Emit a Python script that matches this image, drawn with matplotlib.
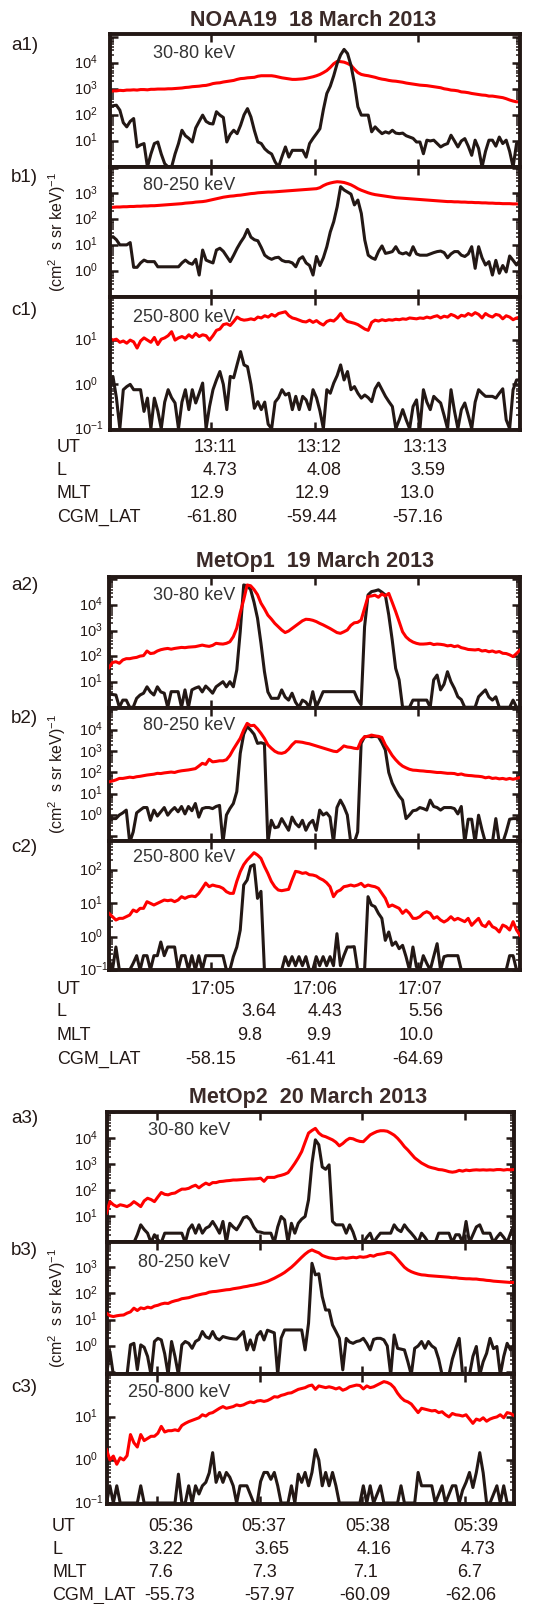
import numpy as np
import matplotlib
matplotlib.use("Agg")
from matplotlib import pyplot as plt
from matplotlib.ticker import LogLocator, NullLocator

plt.rcParams['font.family'] = ['Liberation Sans', 'DejaVu Sans']
plt.rcParams['mathtext.fontset'] = 'custom'
plt.rcParams['mathtext.rm'] = 'Liberation Sans'
plt.rcParams['mathtext.it'] = 'Liberation Sans:italic'
plt.rcParams['mathtext.bf'] = 'Liberation Sans:bold'

# ---- data: log10 of flux, one value per 2 s sample (red = trapped, black = precipitating)
noaa_a_red = [2.88, 2.92, 2.92, 2.94, 2.93, 2.95, 2.95, 2.96, 2.95, 2.97,
              2.97, 2.96, 2.98, 2.98, 2.99, 2.99, 2.99, 3.00, 3.00, 3.01,
              3.02, 3.03, 3.05, 3.06, 3.08, 3.09, 3.10, 3.12, 3.13, 3.16,
              3.20, 3.22, 3.23, 3.26, 3.28, 3.30, 3.32, 3.36, 3.39, 3.40,
              3.42, 3.43, 3.44, 3.48, 3.50, 3.50, 3.50, 3.50, 3.48, 3.45,
              3.42, 3.40, 3.38, 3.36, 3.36, 3.37, 3.38, 3.40, 3.43, 3.46,
              3.50, 3.55, 3.62, 3.70, 3.82, 3.96, 4.05, 4.04, 4.02, 3.97,
              3.90, 3.75, 3.62, 3.55, 3.52, 3.50, 3.47, 3.44, 3.40, 3.37,
              3.35, 3.32, 3.30, 3.29, 3.27, 3.25, 3.22, 3.20, 3.18, 3.16,
              3.14, 3.13, 3.12, 3.10, 3.08, 3.06, 3.04, 3.00, 2.98, 2.95,
              2.94, 2.92, 2.88, 2.87, 2.85, 2.82, 2.80, 2.78, 2.76, 2.75,
              2.72, 2.72, 2.70, 2.68, 2.66, 2.62, 2.57, 2.53, 2.50, 2.50]
noaa_a_black = [2.31, 2.35, 2.37, 2.18, 1.70, 1.54, 1.75, 1.86, 0.77, 0.85,
                0.90, 0.00, 0.50, 0.90, 0.96, 0.50, 0.13, 0.00, 0.00, 0.50,
                0.90, 1.41, 1.20, 1.10, 0.96, 1.50, 1.75, 1.99, 1.75, 1.67,
                1.65, 2.12, 1.99, 1.90, 0.96, 1.25, 1.41, 1.28, 1.60, 2.00,
                2.24, 1.92, 1.40, 0.96, 0.90, 0.70, 0.58, 0.50, 0.20, 0.00,
                0.40, 0.77, 0.38, 0.64, 0.64, 0.64, 0.64, 0.38, 0.90, 1.10,
                1.28, 1.47, 2.20, 2.82, 3.10, 3.50, 3.97, 4.30, 4.51, 4.35,
                3.90, 3.21, 2.31, 1.99, 1.99, 1.99, 1.35, 1.54, 1.40, 1.28,
                1.35, 1.30, 1.41, 1.30, 1.28, 1.30, 1.20, 1.15, 1.10, 0.96,
                0.96, 0.51, 1.03, 1.00, 1.03, 0.90, 0.77, 0.85, 0.90, 1.22,
                1.00, 0.77, 1.00, 1.09, 0.80, 0.45, 1.03, 0.71, 0.00, 0.60,
                1.03, 1.03, 0.80, 1.15, 0.90, 1.03, 0.60, 0.00, 0.90, 1.00]
noaa_b_red = [2.45, 2.46, 2.47, 2.47, 2.48, 2.48, 2.49, 2.49, 2.50, 2.50,
              2.51, 2.51, 2.52, 2.52, 2.53, 2.54, 2.55, 2.56, 2.57, 2.58,
              2.59, 2.60, 2.62, 2.63, 2.64, 2.66, 2.67, 2.68, 2.70, 2.73,
              2.76, 2.79, 2.82, 2.85, 2.87, 2.89, 2.90, 2.92, 2.93, 2.95,
              2.97, 2.99, 3.00, 3.02, 3.03, 3.04, 3.05, 3.05, 3.06, 3.07,
              3.08, 3.09, 3.10, 3.11, 3.12, 3.13, 3.14, 3.15, 3.16, 3.17,
              3.18, 3.22, 3.30, 3.36, 3.40, 3.43, 3.45, 3.44, 3.42, 3.38,
              3.33, 3.26, 3.18, 3.12, 3.07, 3.02, 2.98, 2.95, 2.93, 2.91,
              2.89, 2.87, 2.85, 2.83, 2.82, 2.81, 2.80, 2.79, 2.78, 2.77,
              2.76, 2.75, 2.74, 2.73, 2.72, 2.71, 2.70, 2.69, 2.68, 2.68,
              2.67, 2.67, 2.66, 2.66, 2.65, 2.65, 2.64, 2.64, 2.63, 2.63,
              2.62, 2.62, 2.61, 2.61, 2.60, 2.60, 2.60, 2.59, 2.59, 2.58]
noaa_b_black = [1.25, 1.32, 1.20, 1.00, 1.00, 1.00, 1.09, 0.13, 0.13, 0.30,
                0.41, 0.35, 0.35, 0.35, 0.15, 0.15, 0.15, 0.15, 0.15, 0.15,
                0.15, 0.30, 0.41, 0.30, 0.25, 0.44, -0.17, 0.80, 0.41, 0.35,
                0.30, 0.80, 0.87, 0.75, 0.55, 0.35, 0.60, 0.87, 1.10, 1.30,
                1.60, 1.30, 1.20, 1.16, 0.90, 0.60, 0.50, 0.44, 0.50, 0.52,
                0.40, 0.35, 0.35, 0.30, 0.15, 0.45, 0.54, 0.30, 0.20, -0.17,
                0.55, 0.20, 0.50, 0.93, 1.50, 1.90, 2.48, 3.26, 3.13, 3.05,
                2.97, 2.55, 2.74, 2.22, 1.19, 0.60, 0.50, 0.44, 0.75, 0.96,
                0.67, 0.70, 0.74, 0.93, 0.70, 0.65, 0.70, 0.60, 0.93, 0.65,
                0.60, 0.60, 0.60, 0.65, 0.70, 0.74, 0.76, 0.70, 0.50, 0.65,
                0.74, 0.74, 0.60, 0.55, 0.65, 0.93, 0.09, 0.93, 0.50, 0.22,
                0.35, -0.17, 0.40, -0.10, 0.20, -0.05, 0.57, 0.40, 0.22, 0.41]
noaa_c_red = [1.04, 1.00, 1.02, 0.95, 0.98, 0.93, 1.00, 0.96, 0.82, 0.98,
              1.05, 1.00, 0.95, 1.06, 0.90, 1.02, 1.05, 1.10, 1.19, 1.00,
              1.05, 1.08, 1.04, 1.12, 1.06, 1.15, 1.08, 1.12, 1.10, 1.00,
              1.10, 1.22, 1.25, 1.35, 1.37, 1.33, 1.42, 1.52, 1.47, 1.45,
              1.46, 1.48, 1.46, 1.52, 1.50, 1.55, 1.52, 1.58, 1.54, 1.60,
              1.62, 1.64, 1.55, 1.50, 1.48, 1.45, 1.42, 1.41, 1.45, 1.40,
              1.44, 1.38, 1.34, 1.42, 1.45, 1.43, 1.50, 1.60, 1.48, 1.42,
              1.40, 1.38, 1.35, 1.30, 1.25, 1.22, 1.40, 1.45, 1.43, 1.46,
              1.44, 1.46, 1.45, 1.47, 1.46, 1.48, 1.47, 1.50, 1.49, 1.48,
              1.50, 1.49, 1.52, 1.50, 1.53, 1.55, 1.50, 1.54, 1.52, 1.58,
              1.55, 1.50, 1.56, 1.54, 1.60, 1.56, 1.62, 1.58, 1.50, 1.60,
              1.55, 1.52, 1.58, 1.56, 1.48, 1.55, 1.52, 1.46, 1.50, 1.52]
noaa_c_black = [-0.12, 0.18, -0.30, -1.00, -0.12, -0.05, 0.00, -0.12, -0.12, -0.12,
                -0.61, -0.31, -1.00, -0.31, -0.60, -1.00, -0.40, -0.12, -0.30, -0.42,
                -1.00, -0.40, -0.12, -0.57, -0.12, -0.42, -0.20, 0.03, -1.00, -0.50,
                -0.12, 0.10, 0.29, 0.00, -0.57, 0.18, 0.15, 0.45, 0.74, 0.44,
                0.40, 0.00, -0.54, -0.39, -0.57, -0.40, -0.90, -1.00, -0.40, -0.30,
                -0.12, -0.24, -0.20, -0.57, -0.27, -0.57, -0.27, -0.35, -0.57, -0.12,
                -0.30, -0.60, -1.00, -0.12, -0.20, 0.03, 0.20, 0.44, 0.10, 0.29,
                -0.12, -0.05, -0.20, -0.31, -0.24, -0.30, -0.39, -0.10, 0.03, -0.12,
                -0.27, -0.39, -0.50, -1.00, -0.80, -0.57, -0.80, -1.00, -0.50, -0.35,
                -1.00, -0.12, -0.40, -0.57, -0.27, -0.35, -0.42, -0.70, -1.00, -0.12,
                -0.60, -1.00, -0.57, -0.42, -0.70, -1.00, -0.40, -0.12, -0.20, -0.27,
                -0.27, -0.27, -0.31, -0.20, -0.10, -0.80, -1.00, -0.12, 0.10, 0.10]

mop1_a_red = [1.55, 1.75, 1.78, 1.72, 1.85, 1.90, 1.90, 1.93, 1.95, 2.00,
              2.02, 2.20, 2.10, 2.12, 2.20, 2.25, 2.28, 2.30, 2.27, 2.30,
              2.32, 2.34, 2.33, 2.35, 2.36, 2.37, 2.40, 2.43, 2.40, 2.38,
              2.42, 2.50, 2.48, 2.47, 2.50, 2.56, 2.76, 3.10, 3.70, 4.20,
              4.78, 4.75, 4.60, 4.40, 4.07, 3.85, 3.60, 3.45, 3.28, 3.15,
              3.02, 2.92, 2.98, 3.08, 3.18, 3.28, 3.38, 3.44, 3.43, 3.40,
              3.35, 3.28, 3.22, 3.15, 3.08, 3.00, 2.92, 2.89, 2.95, 3.02,
              3.20, 3.30, 3.32, 3.41, 3.87, 4.33, 4.35, 4.38, 4.30, 4.43,
              4.35, 4.45, 4.10, 3.74, 3.35, 2.95, 2.75, 2.63, 2.55, 2.50,
              2.47, 2.47, 2.48, 2.50, 2.45, 2.47, 2.46, 2.44, 2.40, 2.42,
              2.37, 2.40, 2.33, 2.30, 2.26, 2.25, 2.24, 2.26, 2.20, 2.22,
              2.17, 2.20, 2.15, 2.18, 2.11, 2.10, 2.05, 1.98, 2.10, 2.24]
mop1_a_black = [0.55, 0.50, 0.48, 0.00, 0.28, 0.28, 0.00, 0.00, 0.35, 0.48,
                0.55, 0.80, 0.60, 0.48, 0.80, 0.60, 0.55, 0.00, 0.61, 0.61,
                0.61, 0.00, 0.68, 0.00, 0.68, 0.75, 0.80, 0.60, 0.83, 0.70,
                0.55, 0.80, 0.90, 1.00, 0.80, 1.00, 0.80, 1.46, 2.96, 4.78,
                4.75, 4.60, 4.10, 3.48, 2.50, 1.40, 0.60, 0.35, 0.35, 0.35,
                0.68, 0.40, 0.28, 0.55, 0.20, 0.00, 0.28, 0.20, 0.00, 0.61,
                0.00, 0.30, 0.61, 0.61, 0.61, 0.61, 0.61, 0.61, 0.61, 0.61,
                0.61, 0.61, 0.30, 0.10, 3.15, 4.39, 4.52, 4.55, 4.59, 4.50,
                4.39, 3.61, 2.63, 1.52, 1.07, 0.00, 0.00, 0.00, 0.28, 0.28,
                0.28, 0.28, 0.28, 0.00, 1.07, 1.26, 0.68, 0.90, 1.39, 1.00,
                0.74, 0.41, 0.30, 0.00, 0.00, 0.00, 0.00, 0.41, 0.55, 0.68,
                0.40, 0.28, 0.41, 0.00, 0.00, 0.00, 0.00, 0.28, 0.00, 0.00]
mop1_b_red = [1.56, 1.60, 1.65, 1.72, 1.72, 1.75, 1.78, 1.76, 1.80, 1.82,
              1.85, 1.88, 1.90, 1.92, 1.96, 1.95, 1.98, 2.00, 2.02, 2.00,
              2.05, 2.08, 2.10, 2.12, 2.15, 2.18, 2.30, 2.43, 2.38, 2.62,
              2.50, 2.52, 2.55, 2.55, 2.60, 2.80, 3.09, 3.35, 3.61, 4.00,
              4.31, 4.20, 4.22, 4.05, 3.84, 3.60, 3.30, 3.14, 3.00, 2.92,
              2.90, 2.95, 3.10, 3.30, 3.45, 3.44, 3.42, 3.38, 3.35, 3.30,
              3.25, 3.20, 3.15, 3.10, 3.05, 3.00, 2.98, 3.10, 3.25, 3.20,
              3.18, 3.14, 3.12, 3.50, 3.68, 3.70, 3.76, 3.72, 3.70, 3.65,
              3.30, 3.06, 2.80, 2.60, 2.43, 2.30, 2.22, 2.15, 2.11, 2.10,
              2.08, 2.07, 2.05, 2.04, 2.02, 2.00, 2.00, 1.98, 1.96, 1.96,
              1.95, 1.90, 1.93, 1.88, 1.86, 1.85, 1.83, 1.82, 1.80, 1.75,
              1.78, 1.72, 1.74, 1.70, 1.72, 1.68, 1.72, 1.68, 1.72, 1.76]
mop1_b_black = [-0.17, -0.17, -0.17, 0.00, 0.10, 0.23, -1.30, -0.80, 0.10, 0.23,
                0.35, 0.35, -0.25, 0.23, -0.05, 0.15, 0.35, -0.01, 0.20, 0.35,
                0.15, 0.40, 0.05, 0.40, 0.20, 0.54, -0.10, 0.30, 0.35, 0.35,
                0.30, 0.40, 0.45, -1.30, 0.00, 0.30, 0.54, 1.10, 2.90, 3.80,
                4.16, 4.00, 3.80, 3.37, 3.40, 3.35, -1.30, -0.25, -0.60, -0.56,
                -0.17, -0.45, -0.72, -0.10, -0.40, -0.56, -0.25, -0.72, -0.40, -0.25,
                -0.72, 0.23, 0.00, 0.10, -0.10, -1.30, 0.35, 0.70, 0.40, 0.00,
                -1.30, -1.30, -0.80, 3.37, 3.68, 3.70, 3.68, 3.70, 3.68, 3.40,
                3.06, 2.00, 1.50, 1.18, 0.90, 0.70, -0.17, 0.00, 0.20, 0.23,
                0.35, 0.30, 0.23, 0.70, 0.40, 0.35, 0.23, 0.35, 0.35, 0.35,
                0.30, 0.05, 0.40, -1.30, -0.20, -0.20, -1.30, -0.01, -0.70, -1.30,
                -1.30, -1.30, -0.17, -1.30, -1.30, -0.80, -0.20, -0.17, -0.17, -0.30]
mop1_c_red = [0.70, 0.60, 0.50, 0.55, 0.55, 0.60, 0.65, 0.80, 0.75, 0.85,
              0.85, 1.05, 1.00, 0.95, 1.00, 1.05, 1.10, 1.08, 1.10, 1.05,
              1.10, 1.20, 1.15, 1.20, 1.22, 1.20, 1.30, 1.45, 1.61, 1.50,
              1.55, 1.52, 1.50, 1.45, 1.35, 1.30, 1.30, 1.66, 1.95, 2.16,
              2.30, 2.41, 2.52, 2.45, 2.35, 2.11, 1.90, 1.66, 1.50, 1.40,
              1.38, 1.40, 1.42, 1.70, 1.96, 1.94, 1.90, 1.92, 1.86, 1.85,
              1.82, 1.75, 1.70, 1.62, 1.50, 1.20, 1.35, 1.40, 1.50, 1.52,
              1.55, 1.52, 1.55, 1.60, 1.50, 1.55, 1.52, 1.50, 1.45, 1.30,
              1.15, 0.90, 0.95, 0.90, 0.85, 0.70, 0.80, 0.70, 0.55, 0.55,
              0.60, 0.70, 0.75, 0.70, 0.55, 0.60, 0.50, 0.44, 0.50, 0.60,
              0.50, 0.55, 0.50, 0.45, 0.55, 0.34, 0.45, 0.55, 0.35, 0.30,
              0.45, 0.30, 0.25, 0.14, 0.35, 0.30, 0.20, 0.45, 0.20, 0.04]
mop1_c_black = [-0.67, -1.00, -0.31, -1.00, -1.00, -1.00, -1.00, -0.80, -0.57, -1.00,
                -0.57, -0.57, -1.00, -0.57, -0.57, -0.16, -0.57, -0.31, -0.31, -0.31,
                -1.00, -0.57, -0.57, -1.00, -0.57, -1.00, -0.57, -1.00, -0.57, -0.57,
                -0.57, -0.57, -0.57, -0.57, -1.00, -1.00, -0.60, -0.31, 0.20, 1.55,
                1.70, 2.11, 2.16, 1.15, 1.36, -1.00, -1.00, -1.00, -1.00, -1.00,
                -1.00, -0.60, -0.87, -0.60, -0.87, -0.60, -0.87, -0.60, -1.00, -1.00,
                -0.60, -0.87, -0.60, -0.87, -0.60, -0.87, 0.09, -0.87, -0.57, -0.31,
                -0.31, -0.30, -1.00, -1.00, -1.00, 1.20, 0.95, 0.90, 0.70, 0.55,
                -0.11, 0.14, -0.26, -0.16, -0.36, -0.26, -0.60, -1.00, -0.31, -0.90,
                -1.00, -0.57, -0.80, -1.00, -0.60, -0.21, -1.00, -0.60, -0.57, -0.57,
                -0.57, -0.57, -1.00, -1.00, -1.00, -1.00, -1.00, -1.00, -1.00, -1.00,
                -1.00, -1.00, -1.00, -1.00, -1.00, -1.00, -0.57, -0.57, -1.00, -1.00]

mop2_a_red = [1.13, 1.57, 1.45, 1.38, 1.45, 1.42, 1.38, 1.45, 1.57, 1.48,
              1.38, 1.60, 1.70, 1.65, 1.57, 1.75, 1.92, 1.85, 1.83, 1.88,
              1.90, 1.98, 2.05, 2.05, 2.08, 2.15, 2.20, 2.10, 2.20, 2.28,
              2.22, 2.30, 2.30, 2.34, 2.35, 2.37, 2.38, 2.40, 2.40, 2.41,
              2.42, 2.43, 2.44, 2.44, 2.45, 2.47, 2.35, 2.50, 2.50, 2.50,
              2.55, 2.58, 2.62, 2.68, 2.85, 3.04, 3.25, 3.49, 3.85, 4.20,
              4.30, 4.38, 4.20, 4.10, 4.06, 4.00, 3.94, 3.85, 3.71, 3.80,
              3.92, 4.00, 3.98, 3.92, 3.88, 3.87, 4.00, 4.13, 4.20, 4.26,
              4.29, 4.29, 4.27, 4.20, 4.12, 4.00, 3.85, 3.68, 3.55, 3.40,
              3.25, 3.15, 3.05, 2.98, 2.91, 2.87, 2.84, 2.80, 2.79, 2.76,
              2.72, 2.70, 2.72, 2.77, 2.74, 2.78, 2.76, 2.78, 2.79, 2.78,
              2.79, 2.78, 2.79, 2.78, 2.80, 2.80, 2.78, 2.80, 2.79, 2.80]
mop2_a_black = [0.00, 0.00, 0.00, 0.00, 0.00, 0.00, 0.00, 0.00, 0.00, 0.30,
                0.68, 0.50, 0.36, 0.00, 0.30, 0.10, 0.00, 0.36, 0.36, 0.36,
                0.36, 0.36, 0.36, 0.00, 0.50, 0.68, 0.36, 0.68, 0.36, 0.55,
                0.62, 0.81, 0.60, 0.36, 0.81, 0.00, 0.74, 0.60, 0.49, 0.70,
                0.95, 1.00, 0.87, 0.60, 0.42, 0.40, 0.36, 0.36, 0.36, 0.00,
                0.60, 1.00, 0.87, 0.00, 0.74, 0.36, 0.74, 0.90, 1.00, 1.64,
                3.04, 3.94, 3.75, 2.90, 2.81, 2.98, 0.81, 0.68, 0.68, 0.68,
                0.36, 0.68, 0.40, 0.00, 0.00, 0.00, 0.20, 0.36, 0.00, 0.20,
                0.36, 0.36, 0.36, 0.36, 0.68, 0.50, 0.42, 0.68, 0.50, 0.36,
                0.20, 0.00, 0.36, 0.20, 0.00, 0.00, 0.00, 0.36, 0.36, 0.36,
                0.36, 0.00, 0.30, 0.30, 0.00, 0.81, 0.00, 0.30, 0.60, 0.68,
                0.36, 0.36, 0.36, 0.00, 0.20, 0.36, 0.20, 0.00, 0.36, 0.68]
mop2_b_red = [1.25, 1.15, 1.12, 1.15, 1.17, 1.18, 1.25, 1.30, 1.44, 1.35,
              1.45, 1.42, 1.48, 1.45, 1.52, 1.55, 1.60, 1.63, 1.62, 1.68,
              1.72, 1.75, 1.80, 1.82, 1.84, 1.88, 1.92, 1.95, 1.98, 2.00,
              2.05, 2.07, 2.08, 2.10, 2.12, 2.14, 2.15, 2.18, 2.20, 2.22,
              2.25, 2.27, 2.30, 2.32, 2.35, 2.38, 2.42, 2.46, 2.52, 2.58,
              2.65, 2.72, 2.80, 2.90, 3.00, 3.12, 3.25, 3.38, 3.50, 3.60,
              3.66, 3.60, 3.55, 3.45, 3.40, 3.36, 3.34, 3.32, 3.34, 3.36,
              3.34, 3.36, 3.38, 3.36, 3.40, 3.38, 3.40, 3.45, 3.42, 3.48,
              3.50, 3.52, 3.56, 3.55, 3.45, 3.30, 3.15, 3.00, 2.90, 2.83,
              2.78, 2.74, 2.71, 2.70, 2.68, 2.67, 2.66, 2.65, 2.64, 2.63,
              2.62, 2.60, 2.60, 2.58, 2.57, 2.56, 2.56, 2.55, 2.55, 2.53,
              2.52, 2.50, 2.49, 2.47, 2.46, 2.45, 2.44, 2.43, 2.42, 2.42]
mop2_b_black = [-1.10, -0.21, -1.10, -1.10, -1.10, -1.10, -1.10, 0.04, 0.10, -0.90,
                0.04, -0.05, -0.40, -1.10, 0.17, 0.29, 0.23, -0.30, -1.10, 0.17,
                -0.40, -1.10, 0.04, 0.17, 0.10, -0.09, 0.17, 0.25, 0.55, 0.35,
                0.29, 0.55, 0.30, 0.23, 0.36, 0.32, 0.29, 0.27, 0.26, 0.40,
                0.55, -0.15, 0.23, -0.15, 0.40, 0.55, 0.23, 0.60, 0.55, 0.50,
                -1.10, 0.30, 0.61, 0.61, 0.61, 0.61, 0.61, 0.61, -0.15, 0.87,
                3.15, 2.71, 2.75, 1.88, 1.37, 1.37, 0.80, 0.55, 0.29, -0.91,
                0.29, 0.15, 0.10, 0.17, 0.20, 0.29, 0.10, -0.15, 0.25, 0.29,
                0.29, 0.23, 0.00, -1.10, 0.42, -0.09, -0.12, -0.15, -0.60, -1.10,
                -0.09, 0.00, 0.17, -0.09, 0.17, 0.00, -0.09, -0.50, -1.10, -1.10,
                -1.10, -0.50, -0.09, 0.29, -1.10, -1.10, -1.10, -0.40, -0.02, -1.10,
                -0.60, -0.28, 0.29, -0.10, -0.02, -1.10, -0.40, 0.10, -0.15, 0.04]
mop2_c_red = [0.24, 0.00, 0.09, -0.10, 0.05, 0.00, 0.10, 0.59, 0.40, 0.30,
              0.59, 0.45, 0.50, 0.55, 0.55, 0.62, 0.78, 0.65, 0.68, 0.68,
              0.70, 0.68, 0.80, 0.85, 0.89, 0.92, 0.95, 0.98, 1.05, 1.02,
              1.08, 1.10, 1.15, 1.20, 1.24, 1.20, 1.22, 1.24, 1.28, 1.26,
              1.28, 1.32, 1.35, 1.33, 1.37, 1.38, 1.36, 1.38, 1.42, 1.47,
              1.46, 1.50, 1.52, 1.55, 1.56, 1.60, 1.64, 1.66, 1.68, 1.72,
              1.74, 1.64, 1.72, 1.70, 1.68, 1.70, 1.68, 1.65, 1.68, 1.62,
              1.65, 1.70, 1.72, 1.74, 1.73, 1.65, 1.72, 1.68, 1.70, 1.74,
              1.78, 1.82, 1.80, 1.76, 1.68, 1.55, 1.45, 1.38, 1.35, 1.30,
              1.20, 1.10, 1.20, 1.18, 1.16, 1.14, 1.15, 1.10, 1.12, 1.05,
              1.00, 1.08, 1.05, 1.04, 1.02, 1.05, 0.95, 0.85, 0.95, 0.92,
              0.98, 0.90, 0.95, 0.98, 1.00, 1.05, 0.98, 1.10, 1.08, 1.03]
mop2_c_black = [-1.00, -0.60, -1.00, -0.60, -1.00, -1.00, -1.00, -1.00, -1.00, -1.00,
                -0.60, -1.00, -1.00, -1.00, -1.00, -1.00, -1.00, -1.00, -1.00, -1.00,
                -1.00, -0.33, -1.00, -1.00, -0.60, -1.00, -0.60, -0.79, -0.60, -0.52,
                -0.30, 0.17, -0.52, -0.29, -0.52, -0.29, -0.40, -0.60, -1.00, -0.60,
                -0.60, -0.60, -0.80, -1.00, -1.00, -0.50, -0.29, -0.29, -0.45, -0.29,
                -0.60, -1.00, -1.00, -1.00, -0.60, -1.00, -0.33, -0.52, -0.29, -0.60,
                -0.29, 0.24, 0.00, -0.60, -0.29, -0.60, -0.29, -0.60, -1.00, -1.00,
                -1.00, -1.00, -1.00, -1.00, -1.00, -0.60, -1.00, -0.60, -1.00, -0.80,
                -0.60, -1.00, -1.00, -1.00, -1.00, -1.00, -0.60, -1.00, -1.00, -1.00,
                -1.00, -0.29, -0.60, -0.60, -0.60, -0.60, -1.00, -0.80, -0.60, -1.00,
                -0.80, -0.60, -0.60, -1.00, -0.70, -0.52, -0.29, -0.64, -0.29, 0.17,
                -0.30, -1.00, -1.00, -0.80, -0.60, -1.00, -0.60, -1.00, -1.00, -1.00]

# orbit info printed under each set of panels
noaa_ut = ['13:11', '13:12', '13:13']
noaa_L = ['4.73', '4.08', '3.59']
noaa_mlt = ['12.9', '12.9', '13.0']
noaa_lat = ['-61.80', '-59.44', '-57.16']
mop1_ut = ['17:05', '17:06', '17:07']
mop1_L = ['3.64', '4.43', '5.56']
mop1_mlt = ['9.8', '9.9', '10.0']
mop1_lat = ['-58.15', '-61.41', '-64.69']
mop2_ut = ['05:36', '05:37', '05:38', '05:39']
mop2_L = ['3.22', '3.65', '4.16', '4.73']
mop2_mlt = ['7.6', '7.3', '7.1', '6.7']
mop2_lat = ['-55.73', '-57.97', '-60.09', '-62.06']

row_names = ['UT', 'L', 'MLT', 'CGM_LAT']
energies = ['30-80 keV', '80-250 keV', '250-800 keV']

W, H = 537, 1604
INK = '#231815'
RED = '#ff0000'


def px_rect(x0, y0, x1, y1):
    return [x0 / W, 1 - y1 / H, (x1 - x0) / W, (y1 - y0) / H]


def ftext(x, y, s, **kw):
    kw.setdefault('color', INK)
    fig.text(x / W, 1 - y / H, s, **kw)


def draw_panel(x0, x1, y0, y1, t, red, black, ylim, decades, lab_x, ticks, red_top):
    ax = fig.add_axes(px_rect(x0, y0, x1, y1))
    ax.set_yscale('log')
    ax.plot(t, 10.0 ** np.asarray(red), color=RED, lw=2.2, zorder=3 if red_top else 2)
    ax.plot(t, 10.0 ** np.asarray(black), color=INK, lw=2.2, zorder=2 if red_top else 3)
    ax.set_xlim(t[0], t[-1])
    ax.set_ylim(10.0 ** ylim[0], 10.0 ** ylim[1])
    ax.set_xticks(ticks)
    ax.xaxis.set_minor_locator(NullLocator())
    ax.yaxis.set_major_locator(LogLocator(base=10, numticks=20))
    ax.yaxis.set_minor_locator(LogLocator(base=10, subs=np.arange(2, 10), numticks=20))
    ax.tick_params(which='both', direction='in', top=True, right=True,
                   labelleft=False, labelbottom=False, colors=INK)
    ax.tick_params(which='major', length=6, width=1.8)
    ax.tick_params(which='minor', length=3, width=1.1)
    for s in ax.spines.values():
        s.set_linewidth(2.8)
        s.set_color(INK)
    xa = (lab_x - x0) / (x1 - x0)
    for e in decades:
        ax.text(xa, 10.0 ** e, r'$\mathdefault{10^{%d}}$' % e, transform=ax.get_yaxis_transform(),
                ha='left', va='center', fontsize=10.5, color=INK)
    return ax


fig = plt.figure(figsize=(W / 100, H / 100), dpi=100)

groups = [
    dict(title='NOAA19  18 March 2013', title_xy=(313, 26.5), tag='1',
         x0=109.5, x1=520, edges=[34, 167.3, 296.7, 430], t0=1, ticks=[60, 120, 180],
         series=[(noaa_a_red, noaa_a_black), (noaa_b_red, noaa_b_black), (noaa_c_red, noaa_c_black)],
         ylims=[(-0.01, 5.10), (-1.01, 4.01), (-1.03, 1.98)],
         decades=[[1, 2, 3, 4], [0, 1, 2, 3], [-1, 0, 1]], lab_x=74, red_top=False,
         tag_y=[50.5, 181.5, 315], en_x=235, en_y=[58.3, 190, 321.7],
         rows=[noaa_ut, noaa_L, noaa_mlt, noaa_lat], row_x=57,
         row_y=[452.5, 475, 498.5, 521.5],
         col_x=[[237, 342, 448], [237, 342, 445], [225, 330, 435], [237, 337, 443]]),
    dict(title='MetOp1  19 March 2013', title_xy=(315, 566.5), tag='2',
         x0=109, x1=520, edges=[577.3, 708.3, 840.7, 970], t0=1, ticks=[60, 120, 180],
         series=[(mop1_a_red, mop1_a_black), (mop1_b_red, mop1_b_black), (mop1_c_red, mop1_c_black)],
         ylims=[(-0.04, 5.08), (-1.21, 5.02), (-1.0, 2.88)],
         decades=[[1, 2, 3, 4], [0, 1, 2, 3, 4], [-1, 0, 1, 2]], lab_x=79, red_top=True,
         tag_y=[590, 723.3, 851.7], en_x=235, en_y=[600, 730, 861.7],
         rows=[mop1_ut, mop1_L, mop1_mlt, mop1_lat], row_x=57,
         row_y=[994, 1016.5, 1040, 1063.5],
         col_x=[[235, 338, 442], [276, 343, 443], [262, 331, 434], [236, 336, 443]]),
    dict(title='MetOp2  20 March 2013', title_xy=(308, 1103.3), tag='3',
         x0=106.5, x1=514, edges=[1111.7, 1242.3, 1374.3, 1504.3], t0=30.5, ticks=[60, 120, 180, 240],
         series=[(mop2_a_red, mop2_a_black), (mop2_b_red, mop2_b_black), (mop2_c_red, mop2_c_black)],
         ylims=[(0.01, 5.02), (-1.08, 3.95), (-1.03, 1.99)],
         decades=[[1, 2, 3, 4], [0, 1, 2, 3], [-1, 0, 1]], lab_x=74, red_top=True,
         tag_y=[1123.3, 1255, 1391.7], en_x=230, en_y=[1135, 1267.3, 1396.7],
         rows=[mop2_ut, mop2_L, mop2_mlt, mop2_lat], row_x=52,
         row_y=[1531, 1554, 1577, 1600],
         col_x=[[193, 286, 390, 498], [183, 289, 392, 495], [173, 277, 378, 482], [195, 295, 390, 496]]),
]

for g in groups:
    ftext(g['title_xy'][0], g['title_xy'][1], g['title'], ha='center', va='baseline',
          fontsize=15.5, fontweight='bold', color='#3b2a28')
    e = g['edges']
    for k in range(3):
        red, black = g['series'][k]
        t = g['t0'] + 2.0 * np.arange(len(red))
        draw_panel(g['x0'], g['x1'], e[k], e[k + 1], t, red, black, g['ylims'][k],
                   g['decades'][k], g['lab_x'], g['ticks'], g['red_top'])
        ftext(11, g['tag_y'][k], 'abc'[k] + g['tag'] + ')', ha='left', va='baseline', fontsize=13.5)
        ftext(g['en_x'], g['en_y'][k], energies[k], ha='right', va='baseline', fontsize=13,
              color='#333333')
    ftext(57, (e[1] + e[2]) / 2, r'(cm$^2$  s sr keV)$^{-1}$', rotation=90,
          ha='center', va='center', fontsize=11.5)
    for r in range(4):
        ftext(g['row_x'], g['row_y'][r], row_names[r], ha='left', va='baseline', fontsize=13)
        for s, x in zip(g['rows'][r], g['col_x'][r]):
            ftext(x, g['row_y'][r], s, ha='right', va='baseline', fontsize=13)

fig.savefig('out.png', dpi=100)
